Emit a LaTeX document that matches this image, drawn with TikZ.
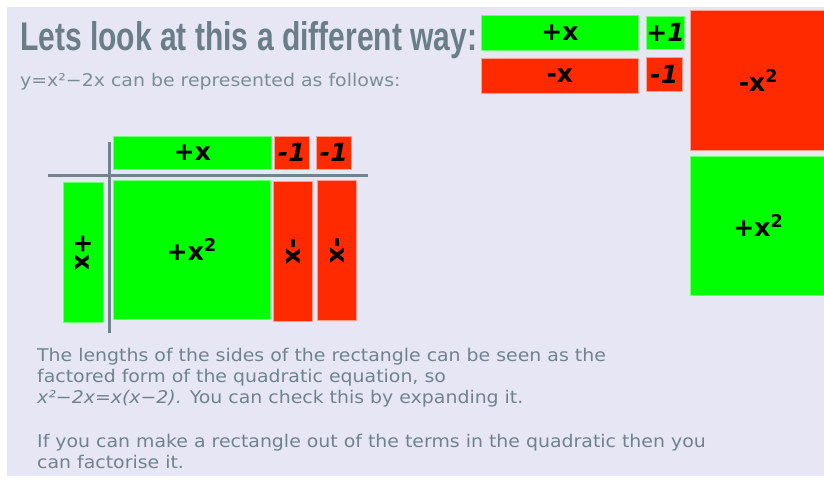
\documentclass[tikz,border=0pt]{standalone}
\usepackage{fontspec}
\setmainfont{DejaVu Sans}
\newfontfamily\bodyfont[FakeStretch=1.08]{DejaVu Sans}
\newfontfamily\titlefont{Liberation Sans}
\usepackage{graphicx}
\usepackage{xcolor}
\usepackage{tikz}
\usetikzlibrary{positioning}
\definecolor{tilegreen}{HTML}{00FF00}
\definecolor{tilered}{HTML}{FF2A00}
\definecolor{slidebg}{HTML}{E6E6F5}
\definecolor{slidegray}{HTML}{6A7E87}
\definecolor{bodygray}{HTML}{70838C}

\begin{document}
\begin{tikzpicture}[
  x=1pt, y=-1pt,
  tile/.style={
    anchor=north west, inner sep=0pt, line width=0.7pt,
    align=center, font=\bfseries\fontsize{25}{25}\selectfont
  },
  greentile/.style={tile, fill=tilegreen, draw=tilegreen!55!white},
  redtile/.style={tile, fill=tilered, draw=tilered!45!white},
  axisline/.style={line width=3pt, color=slidegray!95},
  bodytext/.style={
    inner sep=0pt, align=left, color=bodygray,
    font=\bodyfont\fontsize{17.5}{21}\selectfont
  },
]
\useasboundingbox (0,0) rectangle (824,483);
\fill[slidebg] (7,7) rectangle (824,476);

\node[anchor=base west, inner sep=0pt, color=slidegray] (title) at (20,50)
  {\resizebox{457pt}{29pt}{\titlefont\bfseries Lets look at this a different way:}};
\node[bodytext, anchor=base west, color=bodygray!92] (sub) at (20,86)
  {y=x²−2x can be represented as follows:};

% tiles at the top right
\node[greentile, minimum width=157pt, minimum height=35pt] (px) at (481,15) {+x};
\node[greentile, minimum width=38pt, minimum height=33pt] (pone) at (646,16) {\itshape +1};
\node[redtile, minimum width=157pt, minimum height=35pt] (nx) at (481,58) {-x};
\node[redtile, minimum width=36pt, minimum height=34pt] (none) at (646,57) {\itshape -1};
\node[redtile, minimum width=136pt, minimum height=140pt] (nsq) at (690,10) {-x\textsuperscript{2}};
\node[greentile, minimum width=136pt, minimum height=139pt] (psq) at (690,156) {+x\textsuperscript{2}};

% the rectangle x(x-2)
\coordinate (vtop) at (109,142);
\coordinate (vbot) at (109,333);
\coordinate (hleft) at (48,175);
\coordinate (hright) at (368,175);
\draw[axisline] (vtop) -- (vbot);
\draw[axisline] (hleft) -- (hright);

\node[greentile, minimum width=158pt, minimum height=33pt] (side) at (113,136) {+x};
\node[redtile, minimum width=35pt, minimum height=33pt] (sidea) at (274,136) {\itshape -1};
\node[redtile, minimum width=35pt, minimum height=33pt] (sideb) at (316,136) {\itshape -1};
\node[greentile, minimum width=40pt, minimum height=140pt] (left) at (63,182) {\rotatebox{-90}{+x}};
\node[greentile, minimum width=157pt, minimum height=139pt] (sq) at (113,180) {+x\textsuperscript{2}};
\node[redtile, minimum width=39pt, minimum height=140pt] (bara) at (273,181) {\rotatebox{-90}{-x}};
\node[redtile, minimum width=39pt, minimum height=140pt] (barb) at (317,180) {\rotatebox{-90}{-x}};

\node[bodytext, anchor=base west] (para) at (37,403)
  {The lengths of the sides of the rectangle can be seen as the\\
   factored form of the quadratic equation, so\\
   \textit{x²−2x=x(x−2).} You can check this by expanding it.};
\node[bodytext, anchor=base west] (note) at (37,468)
  {If you can make a rectangle out of the terms in the quadratic then you\\
   can factorise it.};
\end{tikzpicture}
\end{document}
